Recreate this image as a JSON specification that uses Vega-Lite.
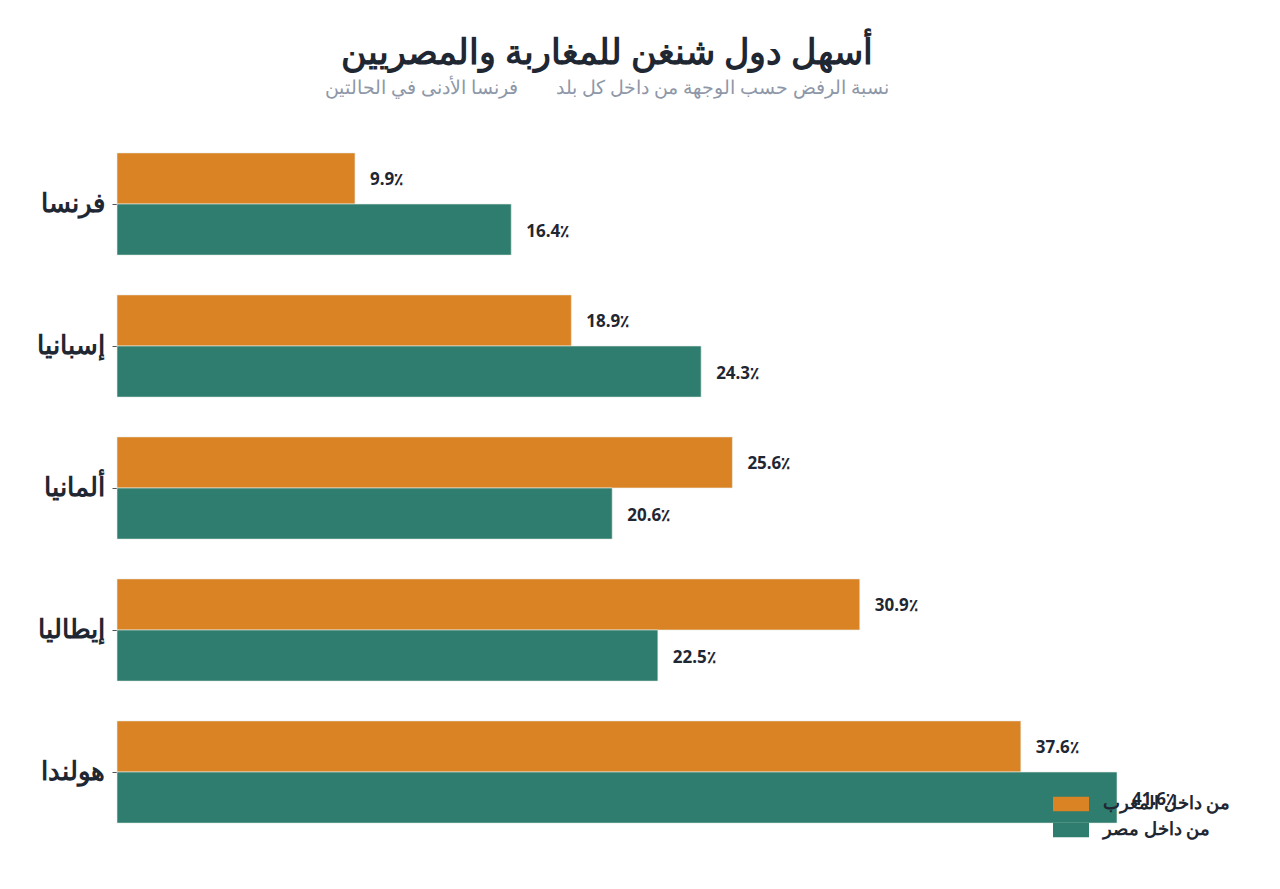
{
  "$schema": "https://vega.github.io/schema/vega-lite/v6.json",
  "width": 1100,
  "height": 710,
  "autosize": {"type": "none"},
  "padding": {"left": 117, "top": 133, "right": 63, "bottom": 46},
  "background": "white",
  "config": {
    "font": "Noto Sans",
    "view": {"stroke": null}
  },
  "title": {
    "text": "أسهل دول شنغن للمغاربة والمصريين",
    "subtitle": "نسبة الرفض حسب الوجهة من داخل كل بلد\u2003\u2003فرنسا الأدنى في الحالتين",
    "anchor": "middle",
    "dx": -60,
    "offset": 35,
    "fontSize": 35,
    "fontWeight": "bold",
    "color": "#1f2733",
    "subtitleFontSize": 19,
    "subtitleColor": "#8e97a8",
    "subtitlePadding": 8
  },
  "data": {
    "values": [
      {"country": "فرنسا", "origin": "من داخل المغرب", "value": 9.9},
      {"country": "فرنسا", "origin": "من داخل مصر", "value": 16.4},
      {"country": "إسبانيا", "origin": "من داخل المغرب", "value": 18.9},
      {"country": "إسبانيا", "origin": "من داخل مصر", "value": 24.3},
      {"country": "ألمانيا", "origin": "من داخل المغرب", "value": 25.6},
      {"country": "ألمانيا", "origin": "من داخل مصر", "value": 20.6},
      {"country": "إيطاليا", "origin": "من داخل المغرب", "value": 30.9},
      {"country": "إيطاليا", "origin": "من داخل مصر", "value": 22.5},
      {"country": "هولندا", "origin": "من داخل المغرب", "value": 37.6},
      {"country": "هولندا", "origin": "من داخل مصر", "value": 41.6}
    ]
  },
  "transform": [
    {"calculate": "format(datum.value, '.1f') + '٪'", "as": "label"}
  ],
  "encoding": {
    "y": {
      "field": "country",
      "type": "nominal",
      "sort": ["فرنسا", "إسبانيا", "ألمانيا", "إيطاليا", "هولندا"],
      "scale": {"paddingInner": 0.28, "paddingOuter": 0.14},
      "axis": {
        "title": null,
        "domain": false,
        "ticks": true,
        "tickSize": 5,
        "tickColor": "#555",
        "labelFontSize": 26,
        "labelFontWeight": "bold",
        "labelColor": "#1f2733",
        "labelPadding": 8
      }
    },
    "yOffset": {
      "field": "origin",
      "type": "nominal",
      "sort": ["من داخل المغرب", "من داخل مصر"]
    },
    "x": {
      "field": "value",
      "type": "quantitative",
      "scale": {"domain": [0, 45.76], "nice": false},
      "axis": null
    }
  },
  "layer": [
    {
      "mark": {"type": "bar", "stroke": "#e8efe9", "strokeWidth": 1, "strokeOpacity": 0.6},
      "encoding": {
        "color": {
          "field": "origin",
          "type": "nominal",
          "scale": {
            "domain": ["من داخل المغرب", "من داخل مصر"],
            "range": ["#d98324", "#2e7d6e"]
          },
          "legend": {
            "title": null,
            "orient": "none",
            "legendX": 945,
            "legendY": 662,
            "symbolType": "M-2,-0.8H2V0.8H-2Z",
            "symbolSize": 324,
            "symbolStrokeWidth": 0,
            "labelFontSize": 18,
            "labelFontWeight": 600,
            "labelColor": "#1f2733",
            "rowPadding": 8,
            "labelOffset": 23
          }
        }
      }
    },
    {
      "mark": {
        "type": "text",
        "align": "left",
        "baseline": "middle",
        "dx": 15,
        "dy": 2,
        "fontSize": 17,
        "fontWeight": "bold",
        "color": "#1f2733"
      },
      "encoding": {
        "text": {"field": "label", "type": "nominal"}
      }
    }
  ]
}
